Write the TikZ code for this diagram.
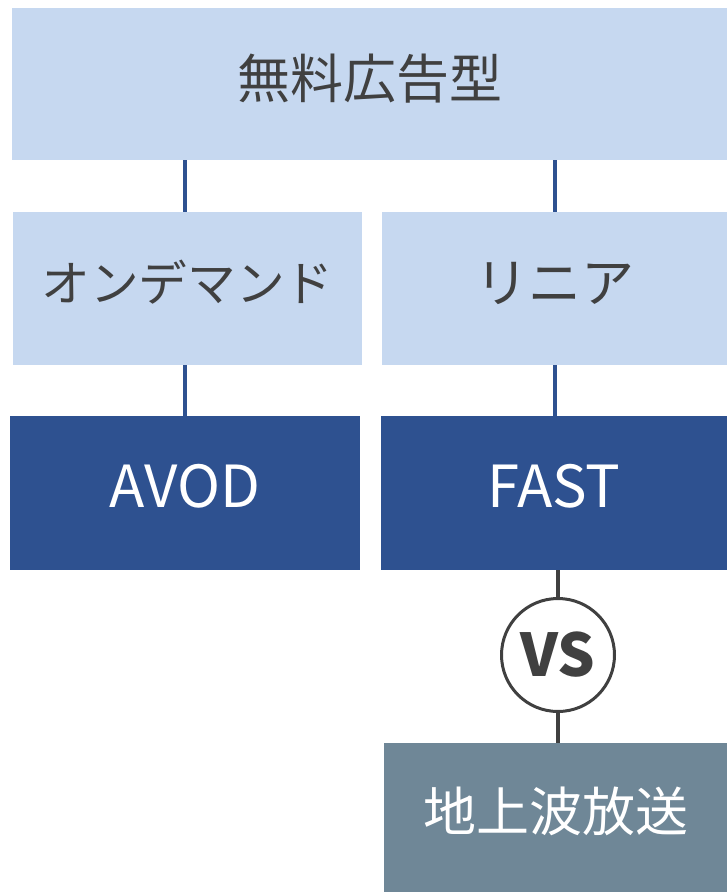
\documentclass[tikz,border=0pt]{standalone}
\usepackage{fontspec}
\setmainfont{Noto Sans CJK JP}
\definecolor{lightbox}{HTML}{C6D8F0}
\definecolor{darkbox}{HTML}{2E5190}
\definecolor{graybox}{HTML}{6F8797}
\definecolor{txt}{HTML}{404040}
\tikzset{
  boxbase/.style={draw=none, inner sep=0pt, text height=28pt, text depth=0pt},
  lightnode/.style={boxbase, fill=lightbox, text=txt, font=\fontsize{53}{56}\selectfont},
  darknode/.style={boxbase, fill=darkbox, text=white, font=\fontsize{58}{62}\selectfont},
  graynode/.style={boxbase, fill=graybox, text=white, font=\fontsize{53}{56}\selectfont},
  blueline/.style={draw=darkbox, line width=4pt},
  grayline/.style={draw=txt, line width=3.5pt},
  vsnode/.style={circle, draw=txt, line width=3pt, fill=white, text=txt, minimum size=113pt, inner sep=0pt, font=\fontsize{59}{62}\bfseries\selectfont}
}
\begin{document}
\begin{tikzpicture}[x=1pt,y=-1pt]
\useasboundingbox (0,0) rectangle (727,892);
\node[lightnode, minimum width=715pt, minimum height=152pt] (top) at (369.5,84) {無料広告型};
\node[lightnode, minimum width=349pt, minimum height=153pt, font=\fontsize{48.7}{52}\selectfont, text height=26pt] (l1) at (187.5,288.5) {オンデマンド};
\node[lightnode, minimum width=345pt, minimum height=153pt] (r1) at (554.5,288.5) {リニア};
\node[darknode, minimum width=350pt, minimum height=154pt] (l2) at (185,493) {AVOD};
\node[darknode, minimum width=346pt, minimum height=154pt] (r2) at (554,493) {FAST};
\node[vsnode] (vs) at (558,655) {VS};
\node[graynode, minimum width=343pt, minimum height=149pt] (bot) at (555.5,817.5) {地上波放送};
\draw[blueline] (185,0 |- top.south) coordinate (lt) -- (lt |- l1.north);
\draw[blueline] (lt |- l1.south) -- (lt |- l2.north);
\draw[blueline] (555,0 |- top.south) coordinate (rt) -- (rt |- r1.north);
\draw[blueline] (rt |- r1.south) -- (rt |- r2.north);
\draw[grayline] (vs |- r2.south) -- (vs.north);
\draw[grayline] (vs.south) -- (vs |- bot.north);
\end{tikzpicture}
\end{document}
